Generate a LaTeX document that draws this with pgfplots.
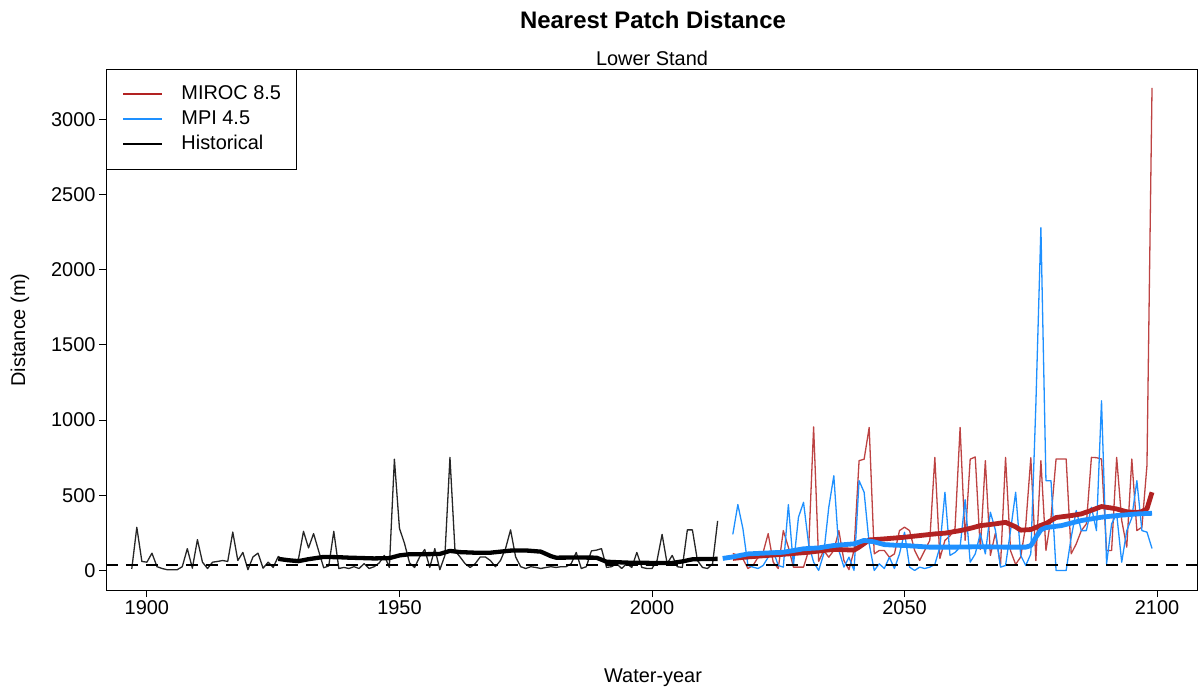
\documentclass[border=0pt]{standalone}
\usepackage{pgfplots}
\pgfplotsset{compat=1.18}
\usepackage{pgfplotstable}
\usepackage{fontspec}
\setmainfont{Liberation Sans}
\definecolor{firebrick}{RGB}{178,34,34}
\definecolor{dodgerblue}{RGB}{30,144,255}

\pgfplotstableread{
year val
1897 10
1898 287
1899 60
1900 55
1901 115
1902 25
1903 13
1904 5
1905 5
1906 5
1907 25
1908 145
1909 15
1910 205
1911 55
1912 13
1913 55
1914 60
1915 66
1916 60
1917 255
1918 66
1919 120
1920 5
1921 90
1922 115
1923 15
1924 55
1925 20
1926 93
1927 70
1928 66
1929 66
1930 75
1931 260
1932 150
1933 245
1934 130
1935 18
1936 30
1937 260
1938 13
1939 20
1940 13
1941 25
1942 13
1943 45
1944 13
1945 25
1946 50
1947 100
1948 20
1949 740
1950 280
1951 180
1952 50
1953 20
1954 90
1955 140
1956 20
1957 145
1958 5
1959 100
1960 752
1961 130
1962 90
1963 45
1964 20
1965 45
1966 90
1967 90
1968 66
1969 25
1970 66
1971 145
1972 270
1973 90
1974 25
1975 13
1976 25
1977 20
1978 13
1979 20
1980 25
1981 20
1982 25
1983 25
1984 45
1985 120
1986 13
1987 25
1988 130
1989 135
1990 145
1991 20
1992 25
1993 45
1994 13
1995 45
1996 20
1997 120
1998 20
1999 13
2000 13
2001 66
2002 240
2003 45
2004 100
2005 25
2006 20
2007 270
2008 270
2009 66
2010 20
2011 13
2012 45
2013 330
}\histdata

\pgfplotstableread{
year val
1926 77
1928 68
1930 62
1932 75
1935 90
1938 88
1940 85
1945 80
1948 82
1950 100
1952 108
1955 108
1958 110
1960 130
1962 122
1965 118
1968 118
1970 125
1972 132
1975 133
1978 125
1980 95
1981 85
1985 86
1989 85
1991 58
1995 52
2000 50
2004 50
2006 60
2008 74
2010 76
2013 77
}\histsmooth

\pgfplotstableread{
year val
2016 113
2017 100
2018 77
2019 13
2020 33
2021 88
2022 120
2023 245
2024 55
2025 13
2026 265
2027 155
2028 22
2029 22
2030 22
2031 130
2032 955
2033 60
2034 133
2035 88
2036 133
2037 265
2038 66
2039 5
2040 133
2041 730
2042 740
2043 951
2044 110
2045 133
2046 133
2047 88
2048 110
2049 265
2050 288
2051 265
2052 133
2053 66
2054 133
2055 200
2056 752
2057 80
2058 200
2059 230
2060 280
2061 951
2062 200
2063 740
2064 755
2065 140
2066 730
2067 100
2068 250
2069 30
2070 752
2071 130
2072 40
2073 90
2074 300
2075 750
2076 66
2077 730
2078 133
2079 350
2080 741
2081 741
2082 741
2083 111
2084 177
2085 265
2086 310
2087 752
2088 750
2089 741
2090 133
2091 133
2092 752
2093 332
2094 155
2095 741
2096 265
2097 288
2098 700
2099 3210
}\mirocdata

\pgfplotstableread{
year val
2016 240
2017 438
2018 278
2019 33
2020 22
2021 13
2022 33
2023 88
2024 130
2025 33
2026 22
2027 438
2028 33
2029 354
2030 453
2031 178
2032 55
2033 0
2034 110
2035 420
2036 630
2037 133
2038 22
2039 88
2040 0
2041 597
2042 520
2043 178
2044 0
2045 44
2046 13
2047 88
2048 13
2049 110
2050 254
2051 22
2052 0
2053 22
2054 13
2055 22
2056 40
2057 155
2058 520
2059 100
2060 120
2061 155
2062 470
2063 55
2064 110
2065 245
2066 110
2067 387
2068 267
2069 22
2070 33
2071 267
2072 520
2073 100
2074 33
2075 110
2076 1100
2077 2280
2078 597
2079 597
2080 0
2081 0
2082 0
2083 221
2084 398
2085 265
2086 265
2087 420
2088 265
2089 1128
2090 44
2091 310
2092 376
2093 55
2094 265
2095 350
2096 597
2097 265
2098 255
2099 146
}\mpidata

\pgfplotstableread{
year val
2016 80
2019 90
2023 100
2027 110
2031 121
2034 133
2036 140
2038 138
2040 135
2041 155
2043 203
2046 210
2050 221
2053 232
2056 243
2058 248
2061 265
2063 280
2065 298
2068 310
2070 320
2072 290
2073 268
2075 272
2077 300
2078 312
2080 352
2083 365
2085 376
2087 400
2089 425
2091 415
2092 409
2094 390
2096 385
2097 392
2098 410
2099 520
}\mirocsmooth

\pgfplotstableread{
year val
2014 80
2016 90
2019 110
2022 115
2026 121
2030 144
2033 150
2036 166
2040 177
2042 200
2044 190
2046 172
2048 168
2050 166
2055 155
2060 155
2065 158
2070 155
2074 155
2075 165
2076 220
2077 270
2078 285
2081 298
2085 332
2089 354
2092 365
2096 376
2099 380
}\mpismooth

\begin{document}
\begin{tikzpicture}
\useasboundingbox (-106bp,-98bp) rectangle (1093bp,590bp);
\begin{axis}[
  at={(0,0)}, anchor=south west,
  scale only axis,
  width=1091bp, height=521bp,
  xmin=1891.9, xmax=2107.9,
  ymin=-130, ymax=3335,
  axis line style={line width=0.9bp},
  xtick={1900,1950,2000,2050,2100},
  ytick={0,500,1000,1500,2000,2500,3000},
  xtick pos=bottom, ytick pos=left,
  tick align=outside,
  major tick length=7bp,
  tick style={line width=0.9bp, black},
  tick label style={font=\fontsize{20}{24}\selectfont},
  /pgf/number format/assume math mode=true,
  xticklabel style={/pgf/number format/1000 sep={}},
  yticklabel style={/pgf/number format/1000 sep={}},
  clip=true,
  legend style={
    at={(0,1)}, anchor=north west,
    draw=black, line width=0.9bp,
    inner xsep=15bp, inner ysep=16bp,
    font=\fontsize{20}{24}\selectfont,
    row sep=7bp,
    cells={anchor=west},
    nodes={inner xsep=0bp, inner ysep=0bp, text height=14bp, text depth=4bp},
  },
  legend image code/.code={%
    \draw[#1] (2bp,0.5bp) -- (41bp,0.5bp);
    \path[draw=none] (0bp,0bp) -- (60bp,0bp);
  },
]
\addlegendimage{firebrick, line width=2bp}
\addlegendentry{MIROC 8.5}
\addlegendimage{dodgerblue, line width=2bp}
\addlegendentry{MPI 4.5}
\addlegendimage{black, line width=2bp}
\addlegendentry{Historical}

\addplot[forget plot, black!85, line width=1.3bp, line join=round] table[x=year,y=val] {\histdata};
\addplot[forget plot, black, line width=4.3bp, line join=round] table[x=year,y=val] {\histsmooth};
\addplot[forget plot, firebrick!85!white, line width=1.3bp, line join=round] table[x=year,y=val] {\mirocdata};
\addplot[forget plot, dodgerblue, line width=1.3bp, line join=round] table[x=year,y=val] {\mpidata};
\addplot[forget plot, firebrick, line width=4.8bp, line join=round] table[x=year,y=val] {\mirocsmooth};
\addplot[forget plot, dodgerblue, line width=4.8bp, line join=round] table[x=year,y=val] {\mpismooth};
\addplot[forget plot, black, line width=2.5bp, dash pattern=on 12bp off 8bp] coordinates {(1880,35) (2120,35)};
\end{axis}
\node[font=\fontsize{24}{28}\selectfont\bfseries] at (547bp,570bp) {Nearest Patch Distance};
\node[font=\fontsize{20}{24}\selectfont] at (546bp,532bp) {Lower Stand};
\node[font=\fontsize{20}{24}\selectfont] at (547bp,-88bp) {Water-year};
\node[font=\fontsize{20}{24}\selectfont, rotate=90] at (-86bp,260bp) {Distance (m)};
\end{tikzpicture}
\end{document}
